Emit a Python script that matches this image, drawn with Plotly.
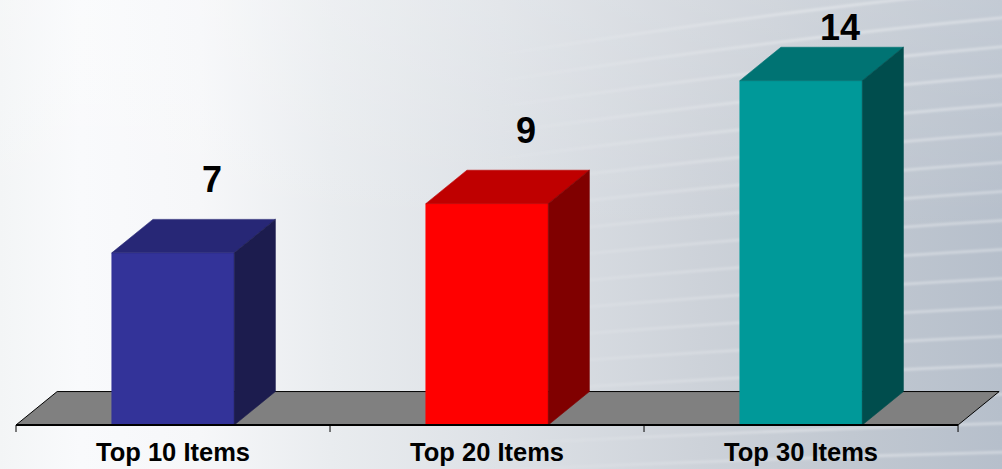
import base64
import plotly.graph_objects as go

# ---------------- data ----------------
categories = ["Top 10 Items", "Top 20 Items", "Top 30 Items"]
values = [7, 9, 14]
value_labels = ["7", "9", "14"]
front_colors = ["#333399", "#ff0000", "#009999"]
top_colors = ["#272776", "#bf0000", "#007373"]
side_colors = ["#1c1c4e", "#800000", "#004d4d"]

# ---------------- style / geometry (axis units) ----------------
W, H = 1002, 469
BAR_W = 0.39          # bar width in category units
DX = 0.131            # 3D depth offset (x, category units)
DY = 1.36             # 3D depth offset (y, value units)
X_RANGE = [-0.551, 2.640]
Y_RANGE = [-1.789, 17.28]
TICK_LEN = 0.285
LABEL_GAP = 1.48
LABEL_MAX = 16.04
CAT_LABEL_Y = -1.22
FONT = "Arial, Liberation Sans, sans-serif"

# ---------------- background (decorative SVG) ----------------
paths = []
for k in range(17):
    yr = -12 + 29 * k
    tilt = 70 - 3.2 * k
    yl = yr + tilt
    paths.append(
        f"<path d='M 480 {yl:.1f} Q 760 {yr + tilt * 0.35:.1f} 1010 {yr:.1f}'/>"
    )
svg = f"""<svg xmlns='http://www.w3.org/2000/svg' width='{W}' height='{H}' viewBox='0 0 {W} {H}' preserveAspectRatio='none'>
<defs>
<linearGradient id='g' x1='0' y1='0' x2='1' y2='0'>
<stop offset='0' stop-color='#f3f5f6'/>
<stop offset='0.08' stop-color='#f9fafc'/>
<stop offset='0.2' stop-color='#f6f7f9'/>
<stop offset='0.33' stop-color='#e9ecef'/>
<stop offset='0.5' stop-color='#dde1e6'/>
<stop offset='0.7' stop-color='#cdd2d9'/>
<stop offset='0.85' stop-color='#c1c8d1'/>
<stop offset='1' stop-color='#b6bfcb'/>
</linearGradient>
<linearGradient id='v' x1='0' y1='0' x2='0' y2='1'>
<stop offset='0' stop-color='#ffffff' stop-opacity='0.18'/>
<stop offset='0.5' stop-color='#ffffff' stop-opacity='0'/>
</linearGradient>
<linearGradient id='s' gradientUnits='userSpaceOnUse' x1='480' y1='0' x2='820' y2='0'>
<stop offset='0' stop-color='#ffffff' stop-opacity='0'/>
<stop offset='1' stop-color='#ffffff' stop-opacity='0.35'/>
</linearGradient>
<filter id='b'><feGaussianBlur stdDeviation='1.2'/></filter>
</defs>
<rect width='{W}' height='{H}' fill='url(#g)'/>
<rect width='{W}' height='{H}' fill='url(#v)'/>
<g stroke='url(#s)' stroke-width='2.6' fill='none' filter='url(#b)'>
{''.join(paths)}
</g>
</svg>"""
bg_uri = "data:image/svg+xml;base64," + base64.b64encode(svg.encode()).decode()

fig = go.Figure()

def poly(xs, ys, fill, line_color=None, line_width=0.6):
    fig.add_trace(go.Scatter(
        x=xs + [xs[0]], y=ys + [ys[0]], mode="lines", fill="toself",
        fillcolor=fill, line=dict(color=line_color or fill, width=line_width),
        hoverinfo="skip", showlegend=False))

n = len(categories)
lo, hi = -0.5, n - 0.5

# floor
poly([lo, hi, hi + DX, lo + DX], [0, 0, DY, DY], "#808080", "#000000", 1)

# bars
for i, v in enumerate(values):
    l, r = i - BAR_W / 2, i + BAR_W / 2
    poly([l, r, r, l], [0, 0, v, v], front_colors[i])
    poly([l, r, r + DX, l + DX], [v, v, v + DY, v + DY], top_colors[i])
    poly([r, r + DX, r + DX, r], [0, DY, v + DY, v], side_colors[i])

# front axis line + tick marks
fig.add_trace(go.Scatter(x=[lo, hi], y=[0, 0], mode="lines",
                         line=dict(color="#000000", width=2),
                         hoverinfo="skip", showlegend=False))
for b in range(n + 1):
    xb = lo + b
    fig.add_trace(go.Scatter(x=[xb, xb], y=[0, -TICK_LEN], mode="lines",
                             line=dict(color="#000000", width=1),
                             hoverinfo="skip", showlegend=False))

# value labels
fig.add_trace(go.Scatter(
    x=[i + DX * 0.95 for i in range(n)],
    y=[min(v + DY + LABEL_GAP, LABEL_MAX) for v in values],
    mode="text", text=value_labels, textposition="middle center",
    textfont=dict(family=FONT, size=36, color="#000000", weight="bold"),
    hoverinfo="skip", showlegend=False))

# category labels
fig.add_trace(go.Scatter(
    x=list(range(n)), y=[CAT_LABEL_Y] * n,
    mode="text", text=categories, textposition="middle center",
    textfont=dict(family=FONT, size=25.5, color="#000000", weight="bold"),
    hoverinfo="skip", showlegend=False))

fig.update_layout(
    width=W, height=H,
    margin=dict(l=0, r=0, t=0, b=0),
    paper_bgcolor="#dde1e6",
    plot_bgcolor="rgba(0,0,0,0)",
    xaxis=dict(range=X_RANGE, visible=False, fixedrange=True),
    yaxis=dict(range=Y_RANGE, visible=False, fixedrange=True),
    images=[dict(source=bg_uri, xref="paper", yref="paper", x=0, y=1,
                 sizex=1, sizey=1, sizing="stretch", layer="below",
                 xanchor="left", yanchor="top")],
    hovermode=False,
)

fig.write_html("out.html",
               config={"displayModeBar": False, "staticPlot": True},
               post_script="document.body.style.margin='0';document.body.style.overflow='hidden';")
